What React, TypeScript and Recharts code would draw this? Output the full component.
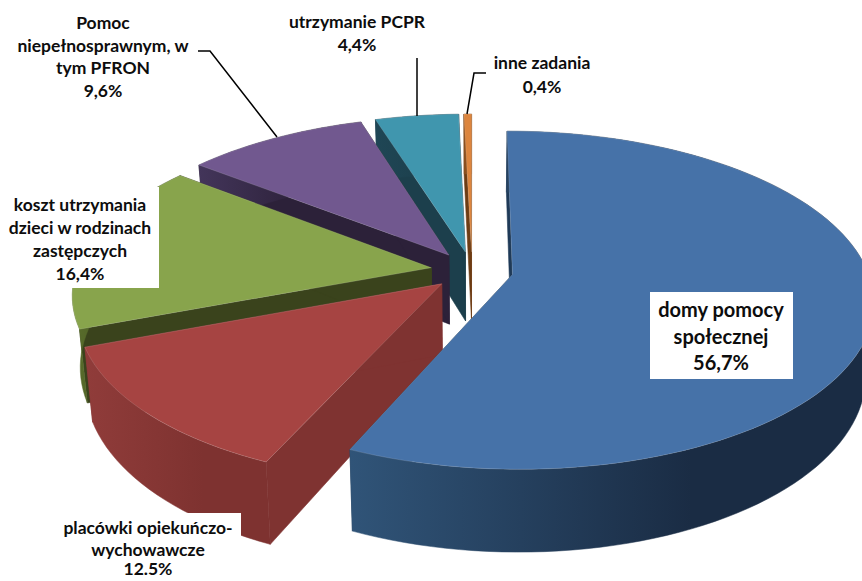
import React from "react";
import { PieChart, Pie } from "recharts";

// Categories in paint order (back to front), running counter-clockwise from 12 o'clock.
const categories = [
  ["inne zadania"],
  ["utrzymanie PCPR"],
  ["Pomoc", "niepełnosprawnym, w", "tym PFRON"],
  ["koszt utrzymania", "dzieci w rodzinach", "zastępczych"],
  ["placówki opiekuńczo-", "wychowawcze"],
  ["domy pomocy", "społecznej"],
];
const values = [0.4, 4.4, 9.6, 16.4, 12.5, 56.7];
const valueLabels = ["0,4%", "4,4%", "9,6%", "16,4%", "12.5%", "56,7%"];

const faceColors = ["#dc853e", "#4096ae", "#71588f", "#88a44c", "#a64442", "#4672a8"];
const sideColors = ["#6e3d14", "#1c3f4c", "#2c2139", "#3a431c", "#7f3331", "#1f3a58"];
const wallStops = [
  ["#8a4f1e", "#8a4f1e"],
  ["#1f4655", "#1c3f4c"],
  ["#43355a", "#2c2139"],
  ["#5a6e2c", "#3f4d1e"],
  ["#903c3a", "#7e3230"],
  ["#305478", "#1a2c44"],
];

// Label furniture, separate from the data.
type LabelLayout = {
  cx: number; ys: number[]; size: number;
  box: [number, number, number, number] | null;
  leader: [number, number][] | null;
};
const labelLayout: LabelLayout[] = [
  { cx: 542, ys: [69, 93], size: 17.5, box: null, leader: [[486, 73], [474, 73], [467, 114]] },
  { cx: 357, ys: [28, 51], size: 17.5, box: null, leader: [[417, 58], [417, 116]] },
  { cx: 103, ys: [29, 52, 74, 97], size: 17.5, box: null, leader: [[198, 51], [210, 51], [277, 137]] },
  { cx: 80, ys: [211, 234, 257, 280], size: 17.5, box: [0, 187, 159, 101], leader: null },
  { cx: 148, ys: [534, 556, 575], size: 17.5, box: [55, 513, 186, 68], leader: null },
  { cx: 721, ys: [317, 344, 370], size: 20, box: [650, 292, 143, 87], leader: null },
];

const tableData = categories.map((c, i) => ({ name: c.join(" "), value: values[i], fill: faceColors[i] }));

// Projection of the pie's disk to the screen.
const DISK_Y = 164 / 355;
const PERSPECTIVE = 0.151;
const EXPLODE = 0.116;
const DEPTH = 70;
const BOTTOM_SHRINK = 0.98;
const rad = (d: number) => (d * Math.PI) / 180;

function SliceShape(props: any) {
  const { cx, cy, outerRadius, startAngle, endAngle, index } = props;
  const R = outerRadius;
  const t0 = 90 - Math.max(startAngle, endAngle);
  const t1 = 90 - Math.min(startAngle, endAngle);
  const mid = (t0 + t1) / 2;
  const ex = EXPLODE * Math.sin(rad(mid));
  const ey = -EXPLODE * Math.cos(rad(mid));
  const top = (u: number, v: number): [number, number] => {
    const w = 1 / (1 - PERSPECTIVE * (v + ey));
    return [cx + R * (u + ex) * w, cy + R * DISK_Y * (v + ey) * w];
  };
  const bottom = (u: number, v: number): [number, number] => {
    const w = 1 / (1 - PERSPECTIVE * (v + ey));
    const [x, y] = top(u, v);
    return [cx + (x - cx) * BOTTOM_SHRINK, y + DEPTH * w];
  };
  const steps = Math.max(2, Math.ceil((t1 - t0) / 2));
  const angles: number[] = [];
  for (let i = 0; i <= steps; i++) angles.push(t0 + ((t1 - t0) * i) / steps);
  const disk = angles.map((t) => [Math.sin(rad(t)), -Math.cos(rad(t))] as [number, number]);
  const path = (pts: [number, number][]) =>
    "M" + pts.map((p) => `${p[0].toFixed(2)} ${p[1].toFixed(2)}`).join("L") + "Z";

  const topArc = disk.map((d) => top(d[0], d[1]));
  const botArc = disk.map((d) => bottom(d[0], d[1]));
  const apexT = top(0, 0);
  const apexB = bottom(0, 0);
  const xs = topArc.map((p) => p[0]);
  const gradId = `wall-${index}`;
  const minX = Math.min(...xs);
  const maxX = Math.max(...xs);
  return (
    <g>
      <defs>
        <linearGradient id={gradId} gradientUnits="userSpaceOnUse" x1={minX} x2={minX + (maxX - minX) * 0.65 + 1} y1={0} y2={0}>
          <stop offset="0" stopColor={wallStops[index][0]} />
          <stop offset="1" stopColor={wallStops[index][1]} />
        </linearGradient>
      </defs>
      <path d={path([apexT, topArc[0], botArc[0], apexB])} fill={sideColors[index]} stroke={sideColors[index]} strokeWidth={0.6} />
      <path d={path([apexT, topArc[steps], botArc[steps], apexB])} fill={sideColors[index]} stroke={sideColors[index]} strokeWidth={0.6} />
      <path d={path([...topArc, ...[...botArc].reverse()])} fill={`url(#${gradId})`} stroke={`url(#${gradId})`} strokeWidth={0.5} />
      <path d={path([apexT, ...topArc])} fill={faceColors[index]} stroke="#ffffff" strokeOpacity={0.2} strokeWidth={0.7} />
    </g>
  );
}

function SliceLabel(props: any) {
  const { index } = props;
  const l = labelLayout[index];
  const lines = [...categories[index], valueLabels[index]];
  return (
    <g>
      {l.box && <rect x={l.box[0]} y={l.box[1]} width={l.box[2]} height={l.box[3]} fill="#ffffff" />}
      {l.leader && (
        <polyline points={l.leader.map((p) => p.join(",")).join(" ")} fill="none" stroke="#000000" strokeWidth={1.5} />
      )}
      {lines.map((line, i) => (
        <text key={i} x={l.cx} y={l.ys[i]} textAnchor="middle" fontFamily="Lato, sans-serif" fontWeight={700} fontSize={l.size} fill="#0d0d0d">
          {line}
        </text>
      ))}
    </g>
  );
}

export default function App() {
  return (
    <div style={{ position: "absolute", left: 0, top: 0, width: 862, height: 581, overflow: "hidden", background: "#ffffff" }}>
      <PieChart width={862} height={581} margin={{ top: 0, right: 0, bottom: 0, left: 0 }}>
        <Pie
          data={tableData}
          dataKey="value"
          nameKey="name"
          cx={472}
          cy={270.6}
          innerRadius={0}
          outerRadius={355}
          startAngle={90}
          endAngle={450}
          stroke="none"
          shape={SliceShape}
          label={SliceLabel}
          labelLine={false}
          isAnimationActive={false}
        />
      </PieChart>
    </div>
  );
}
